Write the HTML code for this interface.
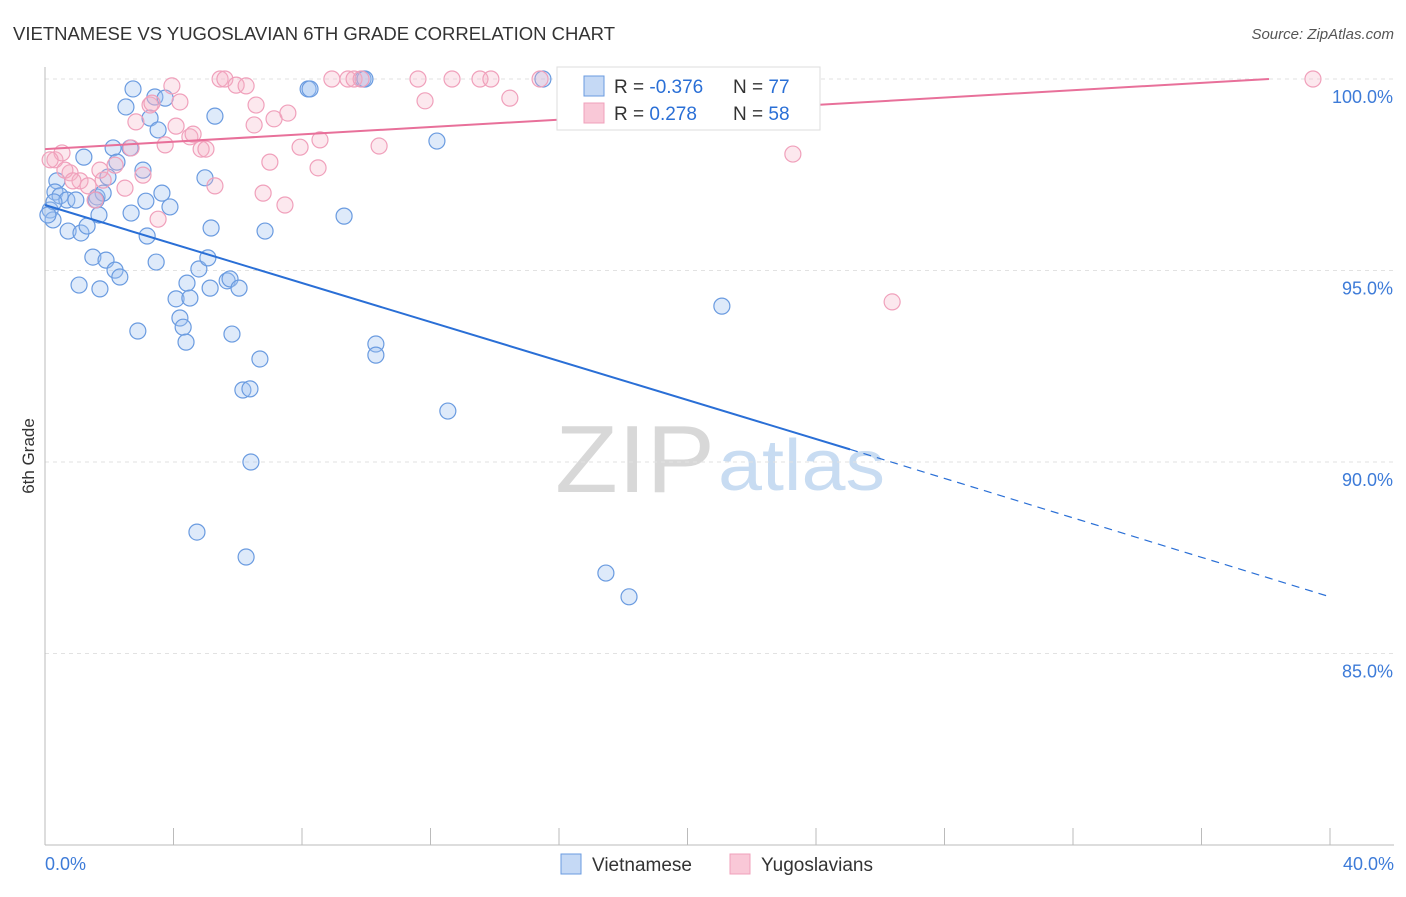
<!DOCTYPE html>
<html><head><meta charset="utf-8">
<style>
body{margin:0;background:#fff;font-family:"Liberation Sans",sans-serif;}
svg text{font-family:"Liberation Sans",sans-serif;}
</style></head>
<body>
<svg id="chart" width="1406" height="892" xmlns="http://www.w3.org/2000/svg">
<text x="13" y="40" font-size="18" fill="#333" textLength="602" lengthAdjust="spacingAndGlyphs">VIETNAMESE VS YUGOSLAVIAN 6TH GRADE CORRELATION CHART</text>
<text x="1394" y="39" font-size="15" fill="#555" text-anchor="end" font-style="italic">Source: ZipAtlas.com</text>
<text x="555" y="492" font-size="96" fill="#d8d8d8" font-family="Liberation Serif, serif" textLength="160" lengthAdjust="spacingAndGlyphs">ZIP</text>
<text x="718" y="490" font-size="72" fill="#c8dcf2" textLength="167" lengthAdjust="spacingAndGlyphs">atlas</text>
<text transform="translate(34,456) rotate(-90)" font-size="17" fill="#333" text-anchor="middle">6th Grade</text>
<g id="grid"></g>
<g id="axes"></g>
<g id="points"></g>
<g id="trends"></g>
<g>
<rect x="557" y="67" width="263" height="63" fill="#fff" stroke="#ddd"/>
<rect x="584" y="76" width="20" height="20" fill="#c5d9f5" stroke="#6a9be0"/>
<rect x="584" y="103" width="20" height="20" fill="#f9c8d7" stroke="#f0a0bb"/>
<text x="614" y="93" font-size="19" fill="#333">R = <tspan fill="#2a6fd6">-0.376</tspan></text>
<text x="733" y="93" font-size="19" fill="#333">N = <tspan fill="#2a6fd6">77</tspan></text>
<text x="614" y="120" font-size="19" fill="#333">R = <tspan fill="#2a6fd6"> 0.278</tspan></text>
<text x="733" y="120" font-size="19" fill="#333">N = <tspan fill="#2a6fd6">58</tspan></text>
</g>
<g>
<rect x="561" y="854" width="20" height="20" fill="#c5d9f5" stroke="#6a9be0"/>
<text x="592" y="871" font-size="19" fill="#333">Vietnamese</text>
<rect x="730" y="854" width="20" height="20" fill="#f9c8d7" stroke="#f0a0bb"/>
<text x="761" y="871" font-size="19" fill="#333">Yugoslavians</text>
</g>
</svg>
<script>
const yTicks=[100,95,90,85];
const yTickLabels=["100.0%","95.0%","90.0%","85.0%"];
const xTickLabels=["0.0%","40.0%"];
const vietX=[2.74,2.52,3.42,3.74,3.27,3.52,5.29,8.19,8.25,9.90,9.96,15.50,12.20,2.12,2.65,2.24,3.05,1.21,0.37,0.31,0.47,0.68,0.96,0.16,0.25,1.62,1.81,1.96,1.59,1.68,2.68,3.14,3.64,3.89,4.98,9.31,6.85,5.17,3.18,0.72,1.12,1.31,1.49,1.90,2.18,2.33,3.46,1.06,1.71,4.42,4.79,5.07,4.08,4.51,5.14,5.67,5.76,6.04,4.20,4.30,4.39,2.89,5.82,6.69,10.30,10.30,6.16,6.38,12.54,6.41,4.73,6.26,17.46,18.18,21.07,0.28,0.09];
const vietY=[99.74,99.27,99.53,99.50,98.98,98.67,99.03,99.74,99.74,100,100,100,98.38,98.20,98.20,97.83,97.62,97.96,97.34,97.05,96.95,96.84,96.84,96.58,96.32,96.92,97.02,97.44,96.84,96.45,96.50,96.81,97.02,96.66,97.42,96.42,96.03,96.11,95.90,96.03,95.98,96.16,95.35,95.27,95.01,94.83,95.22,94.62,94.52,94.67,95.04,95.33,94.26,94.28,94.54,94.73,94.78,94.54,93.76,93.52,93.13,93.42,93.34,92.69,93.08,92.79,91.88,91.91,91.33,90.00,88.17,87.52,87.10,86.48,94.07,96.79,96.45];
const yugoX=[0.31,0.53,0.78,1.09,1.34,1.56,1.81,2.18,2.49,2.68,2.83,3.05,3.27,3.95,4.20,4.08,3.52,3.74,4.51,4.61,4.86,5.01,5.29,5.45,5.60,5.95,6.26,6.57,6.51,7.13,7.56,7.00,6.79,7.47,7.94,8.50,8.56,8.93,9.43,9.62,9.84,10.40,11.61,11.83,12.67,13.54,13.88,14.47,15.41,20.70,23.28,26.37,39.47,0.62,1.71,0.87,0.16,3.33];
const yugoY=[97.89,98.07,97.55,97.34,97.21,96.84,97.36,97.75,97.15,98.20,98.88,97.49,99.32,99.82,99.40,98.77,96.34,98.28,98.49,98.56,98.17,98.17,97.21,100,100,99.84,99.82,99.32,98.80,98.96,99.11,97.83,97.02,96.71,98.22,97.68,98.41,100,100,100,100,98.25,100,99.43,100,100,100,99.50,100,100,98.04,94.18,100,97.62,97.62,97.34,97.89,99.37];
const vietTrendX=[0,25.06,40];
const vietTrendY=[96.71,90.33,86.48];
const yugoTrendX=[0,38.1];
const yugoTrendY=[98.17,100];

const NS="http://www.w3.org/2000/svg";
const X0=45,X1=1330,Y100=79,PXPER=38.3;
function sx(v){return X0+(X1-X0)*v/40;}
function sy(v){return Y100+(100-v)*PXPER;}
function mk(tag,attrs,parent){const e=document.createElementNS(NS,tag);for(const k in attrs)e.setAttribute(k,attrs[k]);parent.appendChild(e);return e;}
const grid=document.getElementById('grid'),axes=document.getElementById('axes'),pts=document.getElementById('points'),tr=document.getElementById('trends');
yTicks.forEach((t,i)=>{
 const l=mk('line',{x1:X0,x2:1394,y1:sy(t),y2:sy(t),stroke:'#e2e2e2','stroke-dasharray':'4,4'},grid);
 
 
 const tx=mk('text',{x:1393,y:sy(t)+24,'font-size':18,fill:'#3d7bd8','text-anchor':'end'},axes);
 tx.textContent=yTickLabels[i];
 
 
});
const ax=mk('line',{x1:X0,x2:1394,y1:845,y2:845,stroke:'#bbb'},axes);


const ay=mk('line',{x1:X0,x2:X0,y1:67,y2:845,stroke:'#bbb'},axes);


for(let i=0;i<=10;i++){
 const t=mk('line',{x1:sx(i*4),x2:sx(i*4),y1:828,y2:845,stroke:'#bbb'},axes);
 
 
}
[[0,'start',45],[40,'end',1394]].forEach((d,i)=>{
 const tx=mk('text',{x:d[2],y:870,'font-size':18,fill:'#3d7bd8','text-anchor':d[1]},axes);
 tx.textContent=xTickLabels[i];
 
 
});
vietX.forEach((v,i)=>{
 const c=mk('circle',{cx:sx(v),cy:sy(vietY[i]),r:8,fill:'rgba(160,195,240,0.35)',stroke:'#6a9be0','stroke-width':1.2},pts);
 
 
});
yugoX.forEach((v,i)=>{
 const c=mk('circle',{cx:sx(v),cy:sy(yugoY[i]),r:8,fill:'rgba(245,180,200,0.3)',stroke:'#f0a0bb','stroke-width':1.2},pts);
 
 
});
const b1=mk('line',{x1:sx(vietTrendX[0]),y1:sy(vietTrendY[0]),x2:sx(vietTrendX[1]),y2:sy(vietTrendY[1]),stroke:'#2a6fd6','stroke-width':2},tr);


const b2=mk('line',{x1:sx(vietTrendX[1]),y1:sy(vietTrendY[1]),x2:sx(vietTrendX[2]),y2:sy(vietTrendY[2]),stroke:'#2a6fd6','stroke-width':1.2,'stroke-dasharray':'8,6'},tr);


const p1=mk('line',{x1:sx(yugoTrendX[0]),y1:sy(yugoTrendY[0]),x2:sx(yugoTrendX[1]),y2:sy(yugoTrendY[1]),stroke:'#e8709a','stroke-width':2},tr);


</script>
</body></html>
